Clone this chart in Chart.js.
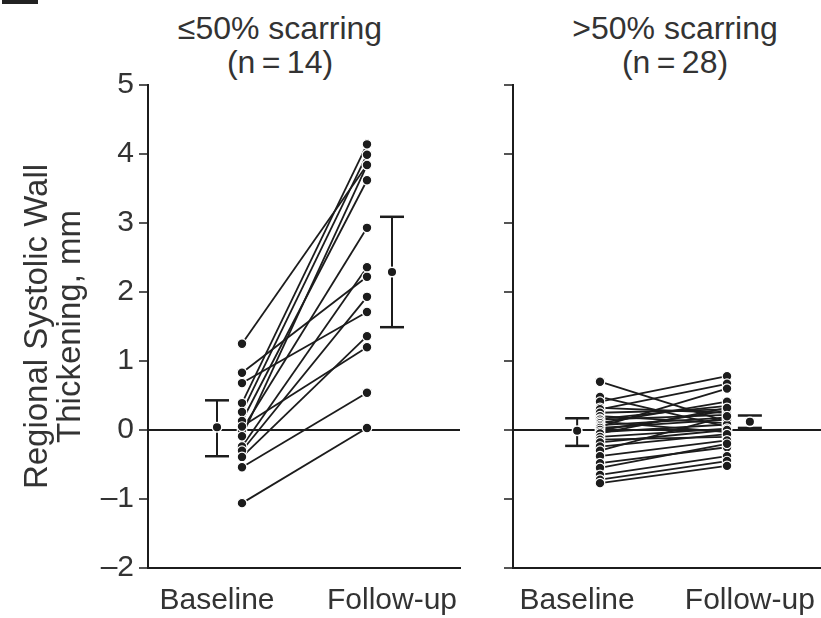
<!DOCTYPE html>
<html>
<head>
<meta charset="utf-8">
<script src="https://cdn.jsdelivr.net/npm/chart.js@4.4.0/dist/chart.umd.min.js"></script>
<style>
  body { margin: 0; background: #fff; }
  #wrap { position: relative; width: 821px; height: 618px; overflow: hidden;
          font-family: 'Liberation Sans', Arial, sans-serif; color: #333; }
  .ttl { position: absolute; text-align: center; font-size: 32px; line-height: 34px; white-space: nowrap; }
  #mark { position: absolute; left: 2px; top: 0; width: 36px; height: 4px; background: #222; }
  canvas { position: absolute; top: 0; }
</style>
</head>
<body>
<div id="wrap">
  <div id="mark"></div>
  <div class="ttl" style="left:130px;width:300px;top:11px">≤50% scarring<br>(n&#8201;=&#8201;14)</div>
  <div class="ttl" style="left:525px;width:300px;top:11px">&gt;50% scarring<br>(n&#8201;=&#8201;28)</div>
  <canvas id="left" width="480" height="618" style="left:0"></canvas>
  <canvas id="right" width="341" height="618" style="left:480px"></canvas>
</div>
<script>
// axis text
const xLabels = ['Baseline', 'Follow-up'];
const yTicks = [-2, -1, 0, 1, 2, 3, 4, 5];
const yTitle = ['Regional Systolic Wall', 'Thickening, mm'];

// <=50% scarring, one entry per patient (baseline -> follow-up)
const lowBase   = [1.25, 0.83, 0.68, 0.39, 0.26, 0.13, 0.00, -0.09, -0.24, -0.30, -0.39, -0.54, -1.06, 0.05];
const lowFollow = [3.84, 2.22, 1.71, 4.14, 3.99, 3.62, 2.93, 3.84, 2.36, 1.93, 1.36, 0.54, 0.03, 1.20];
// mean and bar ends [baseline, follow-up]
const lowMean = [0.04, 2.29];
const lowBarLo = [-0.38, 1.49];
const lowBarHi = [0.43, 3.09];

// >50% scarring
const highBase   = [0.70, 0.48, 0.41, 0.32, 0.30, 0.25, 0.20, 0.16, 0.15, 0.12, 0.10, 0.07, 0.05, 0.03,
                    0.00, -0.03, -0.05, -0.10, -0.14, -0.18, -0.24, -0.30, -0.38, -0.48, -0.55, -0.65, -0.72, -0.77];
const highFollow = [0.12, 0.05, 0.78, 0.25, 0.67, 0.30, 0.10, 0.35, 0.22, -0.03, 0.41, 0.18, 0.60, 0.15,
                    0.28, 0.08, 0.32, 0.02, -0.10, 0.00, -0.06, 0.20, -0.15, -0.25, -0.20, -0.38, -0.45, -0.52];
const highMean = [-0.01, 0.12];
const highBarLo = [-0.23, 0.03];
const highBarHi = [0.17, 0.21];

const ink = '#1c1c1c';
const textCol = '#333';
const fam = "'Liberation Sans', Arial, sans-serif";

function makePanel(id, base, follow, mean, lo, hi, p) {
  const ds = [];
  base.forEach((b, i) => {
    ds.push({ type: 'line', data: [{ x: 0, y: b }, { x: 1, y: follow[i] }],
      borderColor: ink, borderWidth: 1.8, pointRadius: 0, order: 3 });
  });
  ds.push({ type: 'scatter',
    data: base.map(v => ({ x: 0, y: v })).concat(follow.map(v => ({ x: 1, y: v }))),
    pointRadius: 4.8, pointBackgroundColor: ink, pointBorderColor: '#fff', pointBorderWidth: 1.2, order: 2 });
  [0, 1].forEach(k => {
    ds.push({ type: 'line', data: [{ x: p.barX[k], y: lo[k] }, { x: p.barX[k], y: hi[k] }],
      borderColor: ink, borderWidth: 2, pointStyle: 'line', pointRadius: 12,
      pointBorderColor: ink, pointBorderWidth: 2.5, order: 1 });
    ds.push({ type: 'scatter', data: [{ x: p.barX[k], y: mean[k] }],
      pointRadius: 4.8, pointBackgroundColor: ink, pointBorderColor: '#fff', pointBorderWidth: 1.5, order: 0 });
  });

  new Chart(document.getElementById(id), {
    type: 'scatter',
    data: { datasets: ds },
    options: {
      responsive: false,
      animation: false,
      events: [],
      layout: { autoPadding: false, padding: { top: 85, right: p.padRight, bottom: 0, left: 0 } },
      plugins: { legend: { display: false }, tooltip: { enabled: false } },
      scales: {
        x: {
          type: 'linear', min: p.xMin, max: p.xMax,
          grid: { display: false },
          border: { display: true, color: ink, width: 2 },
          afterBuildTicks: s => { s.ticks = p.barX.map(v => ({ value: v })); },
          afterFit: s => { s.height = 50; s.paddingLeft = 0; s.paddingRight = 0; },
          ticks: { autoSkip: false, maxRotation: 0, padding: 0, color: textCol,
            font: { family: fam, size: 30, lineHeight: 1.65 }, callback: (v, i) => xLabels[i] }
        },
        y: {
          min: -2, max: 5,
          afterBuildTicks: s => { s.ticks = yTicks.map(v => ({ value: v })); },
          afterFit: s => { s.width = p.yWidth; },
          grid: { color: c => (c.tick && c.tick.value === 0) ? ink : 'rgba(0,0,0,0)',
            lineWidth: 2, tickColor: ink, tickLength: 9, tickWidth: 1.5 },
          border: { display: true, color: ink, width: 2 },
          ticks: { display: p.labels, padding: 5, color: textCol,
            font: { family: fam, size: 30 }, callback: v => String(v).replace('-', '\u2013') },
          title: { display: p.labels, text: yTitle, color: textCol,
            font: { family: fam, size: 33, lineHeight: 1.0 }, padding: { top: 21, bottom: 0 } }
        }
      }
    }
  });
}

makePanel('left', lowBase, lowFollow, lowMean, lowBarLo, lowBarHi,
  { xMin: -0.752, xMax: 1.744, barX: [-0.2, 1.2], yWidth: 148, padRight: 20, labels: true });
makePanel('right', highBase, highFollow, highMean, highBarLo, highBarHi,
  { xMin: -0.685, xMax: 1.74, barX: [-0.18, 1.18], yWidth: 33, padRight: 0, labels: false });
</script>
</body>
</html>
